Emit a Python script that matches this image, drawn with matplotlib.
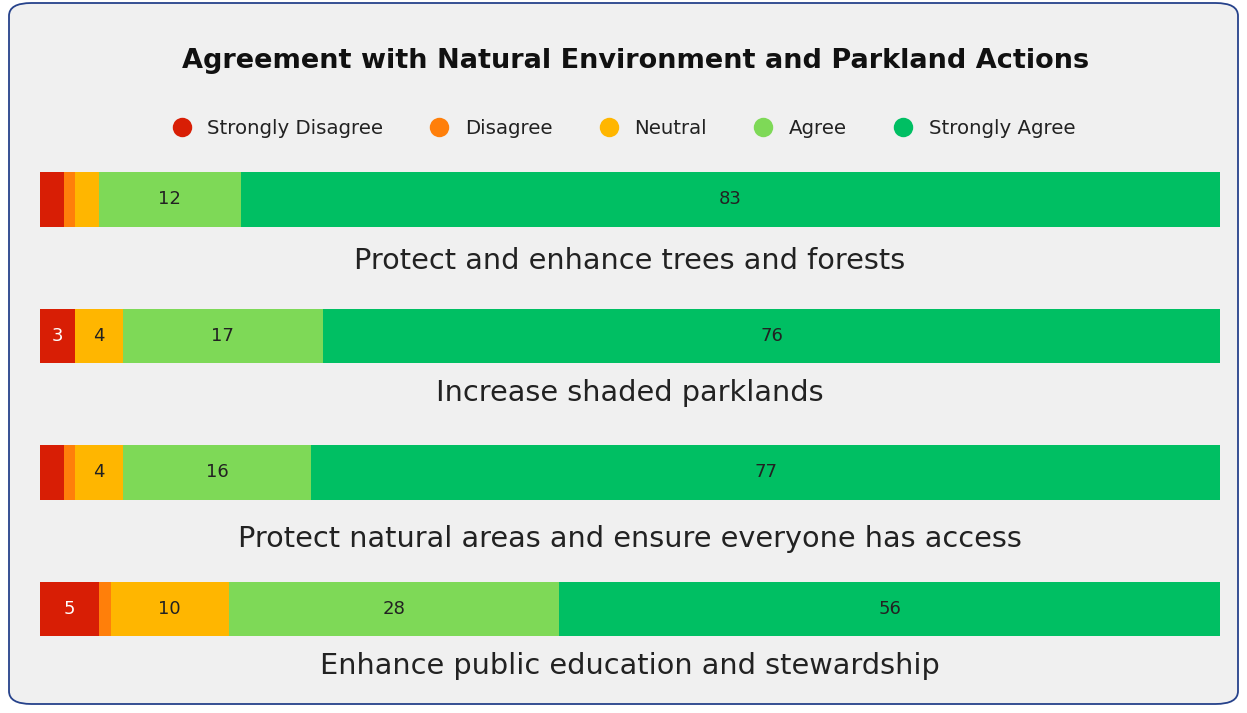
import matplotlib.pyplot as plt
from matplotlib.patches import FancyBboxPatch
from matplotlib.lines import Line2D

categories = ['Protect and enhance trees and forests',
              'Increase shaded parklands',
              'Protect natural areas and ensure everyone has access',
              'Enhance public education and stewardship']
responses = ['Strongly Disagree', 'Disagree', 'Neutral', 'Agree', 'Strongly Agree']
strongly_disagree = [2, 3, 2, 5]
disagree = [1, 0, 1, 1]
neutral = [2, 4, 4, 10]
agree = [12, 17, 16, 28]
strongly_agree = [83, 76, 77, 56]
colors = ['#D81E05', '#FF7F0A', '#FFB600', '#7ED957', '#00BF63']

series = [strongly_disagree, disagree, neutral, agree, strongly_agree]

W, H = 1247, 713
fig = plt.figure(figsize=(W / 100, H / 100), dpi=100)
fig.patch.set_facecolor('white')

# rounded card behind everything
card = FancyBboxPatch((9 / W, 9 / H), (W - 18) / W, (H - 12) / H,
                      boxstyle='round,pad=0,rounding_size=0.018',
                      transform=fig.transFigure, facecolor='#F0F0F0',
                      edgecolor='#26428B', linewidth=1.3, zorder=-5)
fig.patches.append(card)

ax = fig.add_axes([40 / W, 1 - 700 / H, 1180 / W, (700 - 131) / H])
ax.set_facecolor('none')

rows = list(range(len(categories)))
left = [0] * len(categories)
for vals, col in zip(series, colors):
    bars = ax.barh(rows, vals, left=left, height=0.40, color=col, edgecolor='none')
    for b, v in zip(bars, vals):
        if v >= 3:
            tc = 'white' if col == colors[0] else '#222222'
            ax.text(b.get_x() + b.get_width() / 2, b.get_y() + b.get_height() / 2,
                    str(v), ha='center', va='center', fontsize=13, color=tc)
    left = [l + v for l, v in zip(left, vals)]

label_off = [0.45, 0.42, 0.49, 0.42]
for r, name, off in zip(rows, categories, label_off):
    ax.text(50, r + off, name, ha='center', va='center', fontsize=20.7, color='#222222')

ax.set_xlim(0, 100)
ax.set_ylim(3.666, -0.5)
ax.axis('off')

fig.text(636 / W, 1 - 61 / H, 'Agreement with Natural Environment and Parkland Actions',
         ha='center', va='center', fontsize=19.5, fontweight='bold', color='#111111')

handles = [Line2D([], [], marker='o', linestyle='none', markersize=14,
                  markerfacecolor=c, markeredgecolor='none') for c in colors]
fig.legend(handles, responses, loc='center', bbox_to_anchor=(0.496, 1 - 128 / H),
           ncol=5, frameon=False, fontsize=14.2, handletextpad=0.3, columnspacing=1.85,
           labelcolor='#222222')

fig.savefig('out.png', dpi=100)
